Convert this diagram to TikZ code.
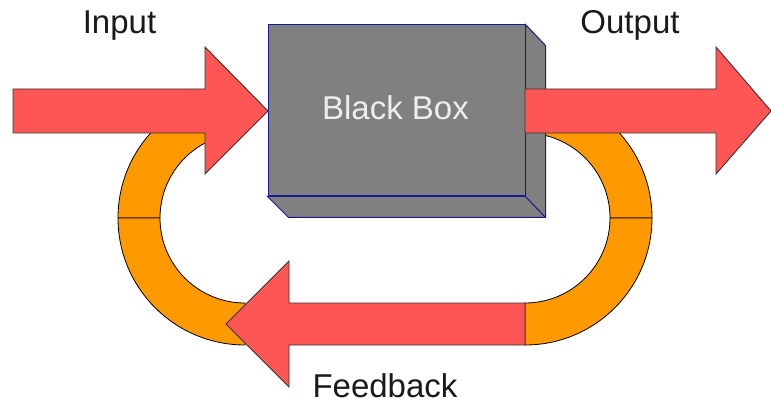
\documentclass[tikz,border=0pt]{standalone}
\usepackage{fontspec}
\setmainfont{Liberation Sans}
\usetikzlibrary{calc}
\definecolor{arrred}{HTML}{FF5555}
\definecolor{looporange}{HTML}{FF9900}
\definecolor{boxgray}{HTML}{808080}
\definecolor{boxline}{HTML}{1A1A8C}
\definecolor{labelcol}{HTML}{1A1A1A}
\definecolor{boxtext}{HTML}{EEEEEE}
\begin{document}
\begin{tikzpicture}[x=1pt,y=1pt,
  redarrow/.style={fill=arrred,draw=black!80,line width=0.9pt,line join=miter},
  loopseg/.style={fill=looporange,draw=black,line width=0.8pt},
  boxface/.style={fill=boxgray,draw=boxline,line width=1pt},
  label/.style={font=\fontsize{33}{36}\selectfont,text=labelcol,anchor=base,inner sep=0pt}]
\useasboundingbox (0,0) rectangle (771,402);
% orange loop segments
\path[loopseg] (118,184) arc[start angle=180,end angle=90,radius=127] -- (245,269)
  arc[start angle=90,end angle=180,radius=85] -- cycle;
\path[loopseg] (118,184) arc[start angle=180,end angle=270,radius=127] -- (245,99)
  arc[start angle=270,end angle=180,radius=85] -- cycle;
\path[loopseg] (652,184) arc[start angle=0,end angle=90,radius=127] -- (525,269)
  arc[start angle=90,end angle=0,radius=85] -- cycle;
\path[loopseg] (652,184) arc[start angle=0,end angle=-90,radius=127] -- (525,99)
  arc[start angle=-90,end angle=0,radius=85] -- cycle;
% black box
\node[boxface,minimum width=257pt,minimum height=171pt,inner sep=0pt] (box) at (396.5,291.5) {};
\path[boxface] (box.south west) -- ++(21,-21) -- ($(box.south east)+(20,-21)$) coordinate (bse)
  -- ($(box.north east)+(20,-21)$) -- (box.north east) -- (box.south east) -- cycle;
\draw[boxline,line width=1pt] (box.south east) -- (bse);
\node[label,text=boxtext] (boxlabel) at (395.5,282) {Black Box};
% input arrow
\path[redarrow] (13,269) -- (205,269) -- (205,228) -- (268,291) -- (205,355) -- (205,313) -- (13,313) -- cycle;
% output arrow
\path[redarrow] (525,269) -- (716,269) -- (716,228) -- (771,291) -- (716,355) -- (716,313) -- (525,313) -- cycle;
% feedback arrow
\path[redarrow] (525,57) -- (289,57) -- (289,15) -- (226,78) -- (289,141) -- (289,99) -- (525,99) -- cycle;
% labels
\node[label] (input) at (119.5,368) {Input};
\node[label] (output) at (630,368) {Output};
\node[label] (feedback) at (385,5) {Feedback};
\end{tikzpicture}
\end{document}
